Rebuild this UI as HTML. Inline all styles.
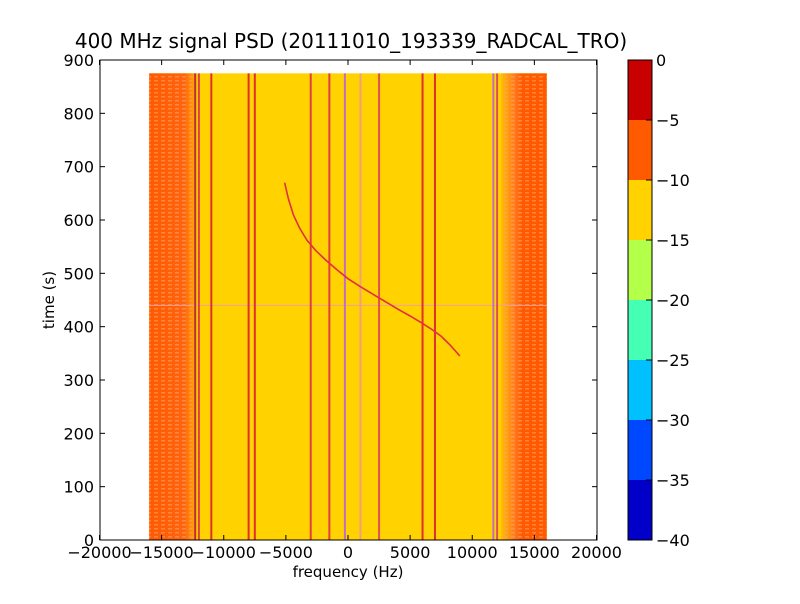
<!DOCTYPE html>
<html><head><meta charset="utf-8"><style>
body{margin:0;background:#fff;font-family:"DejaVu Sans",sans-serif}
svg text{font-family:"DejaVu Sans",sans-serif;fill:#000}
</style></head><body>
<svg id="c" width="800" height="600">
<defs>
<linearGradient id="lg" x1="0" x2="1"><stop offset="0" stop-color="#ff5a00"/><stop offset="0.75" stop-color="#ff6410"/><stop offset="1" stop-color="#ffb000"/></linearGradient>
<linearGradient id="rg" x1="0" x2="1"><stop offset="0" stop-color="#ffc000"/><stop offset="0.3" stop-color="#ff7a20"/><stop offset="0.45" stop-color="#ff5a00"/><stop offset="1" stop-color="#ff5a00"/></linearGradient>
<pattern id="st" width="7" height="4" patternUnits="userSpaceOnUse"><rect width="4" height="1.5" fill="#ffa060" opacity="0.6"/></pattern>
</defs>
<text x="351" y="48" font-size="20" text-anchor="middle">400 MHz signal PSD (20111010_193339_RADCAL_TRO)</text>
<g id="plot"></g>
<rect x="100" y="60" width="497" height="480" fill="none" stroke="#000"/>
<g id="ax"></g>
<text x="348" y="577" font-size="15" text-anchor="middle">frequency (Hz)</text>
<text x="54" y="300" font-size="15" text-anchor="middle" transform="rotate(-90 54 300)">time (s)</text>
<g id="cb"></g>
</svg>
<script>
const xTicks=[-20000,-15000,-10000,-5000,0,5000,10000,15000,20000];
const yTicks=[0,100,200,300,400,500,600,700,800,900];
const cbTicks=[0,-5,-10,-15,-20,-25,-30,-35,-40];
const cbColors=["#c80000","#ff5a00","#ffd200","#b4ff4a","#44ffb4","#00c0ff","#0048ff","#0000c8"];
const lineFreqs=[-12300,-12000,-11000,-8000,-7500,-3000,-1500,-250,1000,2500,6000,7000,11700,12000];
const lineColors=["#c03030","#e04040","#e03030","#e03030","#e03030","#e04040","#e04040","#c070c0","#f0a080","#e05050","#e03030","#e03030","#c070c0","#e05050"];
const curveFreq=[-5100,-4800,-4400,-3900,-3300,-2600,-1800,-900,0,1000,2000,3000,4000,5000,6000,6800,7500,8200,9000];
const curveTime=[670,640,610,585,562,543,525,507,490,475,461,447,433,420,406,394,382,366,345];
const fMin=-16000,fMax=16000,tMax=875,hLine=440;
const X=f=>348+f*497/40000, Y=t=>540-t*480/900;
const NS="http://www.w3.org/2000/svg";
function mk(p,tag,a){const e=document.createElementNS(NS,tag);for(const k in a)e.setAttribute(k,a[k]);p.appendChild(e);return e;}
const plot=document.getElementById('plot');
let r=mk(plot,'rect',{x:X(fMin),y:Y(tMax),width:X(fMax)-X(fMin),height:Y(0)-Y(tMax),fill:'#ffd200'});


r=mk(plot,'rect',{x:X(fMin),y:Y(tMax),width:X(-12200)-X(fMin),height:Y(0)-Y(tMax),fill:'url(#lg)'});


r=mk(plot,'rect',{x:X(12300),y:Y(tMax),width:X(fMax)-X(12300),height:Y(0)-Y(tMax),fill:'url(#rg)'});


mk(plot,'rect',{x:X(fMin),y:Y(tMax),width:X(-12500)-X(fMin),height:Y(0)-Y(tMax),fill:'url(#st)'});
mk(plot,'rect',{x:X(12500),y:Y(tMax),width:X(fMax)-X(12500),height:Y(0)-Y(tMax),fill:'url(#st)'});
r=mk(plot,'line',{x1:X(fMin),x2:X(fMax),y1:Y(hLine),y2:Y(hLine),stroke:'#f0a0a0','stroke-width':1});


lineFreqs.forEach((f,i)=>{const l=mk(plot,'line',{x1:X(f),x2:X(f),y1:Y(tMax),y2:Y(0),stroke:lineColors[i],'stroke-width':2});

});
const pl=mk(plot,'polyline',{points:curveFreq.map((f,i)=>X(f)+','+Y(curveTime[i])).join(' '),fill:'none',stroke:'#e03040','stroke-width':1.6});


const ax=document.getElementById('ax');
xTicks.forEach(v=>{const x=X(v);mk(ax,'line',{x1:x,x2:x,y1:540,y2:535,stroke:'#000'});mk(ax,'line',{x1:x,x2:x,y1:60,y2:65,stroke:'#000'});
const t=mk(ax,'text',{x:x,y:558,'font-size':16,'text-anchor':'middle'});t.textContent=(v<0?'\u2212'+(-v):v);

});
yTicks.forEach(v=>{const y=Y(v);mk(ax,'line',{x1:100,x2:105,y1:y,y2:y,stroke:'#000'});mk(ax,'line',{x1:597,x2:592,y1:y,y2:y,stroke:'#000'});
const t=mk(ax,'text',{x:94,y:y+6,'font-size':16,'text-anchor':'end'});t.textContent=v;

});
const cb=document.getElementById('cb');
cbColors.forEach((c,i)=>{const b=mk(cb,'rect',{x:628,y:60+i*60,width:24,height:60,fill:c});

});
mk(cb,'rect',{x:628,y:60,width:24,height:480,fill:'none',stroke:'#000'});
cbTicks.forEach((v,i)=>{const y=60+i*60;mk(cb,'line',{x1:646,x2:652,y1:y,y2:y,stroke:'#000'});
const t=mk(cb,'text',{x:656,y:y+6,'font-size':16});t.textContent=(v<0?'\u2212'+(-v):v);

});
</script>
</body></html>
